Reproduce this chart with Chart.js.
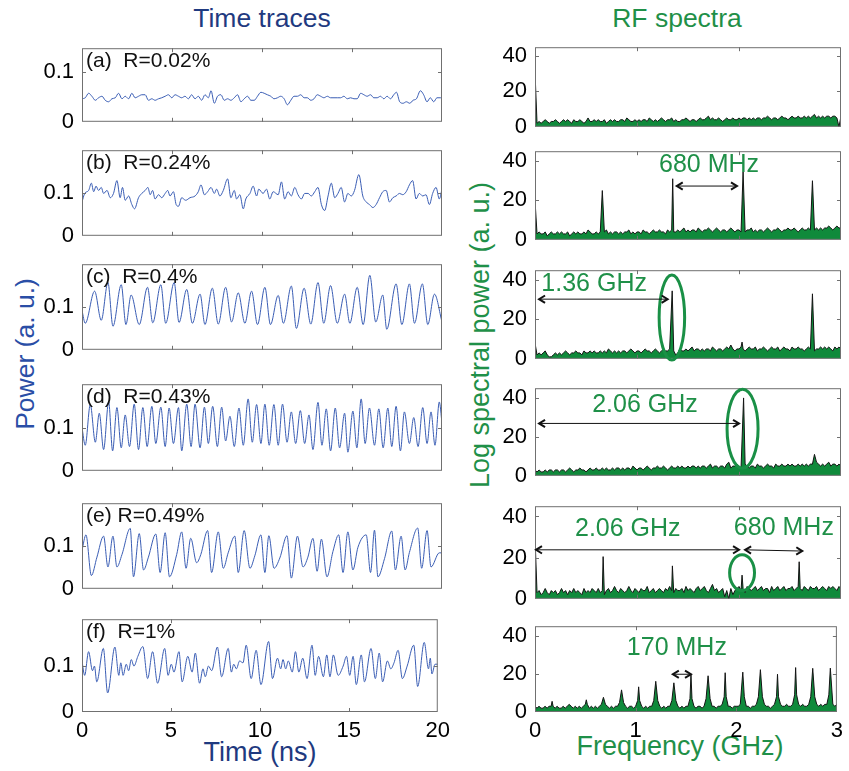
<!DOCTYPE html>
<html lang="en">
<head>
  <meta charset="UTF-8">
  <title>Time traces and RF spectra</title>
  <script src="https://cdn.jsdelivr.net/npm/chart.js"></script>
  <style>
    body { margin: 0; background: #fff; }
    #fig { position: relative; width: 849px; height: 771px; font-family: "Liberation Sans", Arial, sans-serif; overflow: hidden; }
    #fig canvas { position: absolute; }
    .lbl { position: absolute; white-space: nowrap; line-height: 1; }
    .rot { transform: translate(-50%, -50%) rotate(-90deg); }
  </style>
</head>
<body>
<div id="fig">
  <div class="lbl" style="left:262px; top:5px; transform:translateX(-50%); font-size:26.5px; color:#1f3a80">Time traces</div>
  <div class="lbl" style="left:677px; top:5px; transform:translateX(-50%); font-size:26.5px; color:#1f9048">RF spectra</div>
  <div class="lbl rot" style="left:25px; top:354px; font-size:26.5px; color:#2a4ea6">Power (a. u.)</div>
  <div class="lbl rot" style="left:480px; top:335px; font-size:27px; color:#1f9048">Log spectral power (a. u.)</div>
  <div class="lbl" style="left:260px; top:739px; transform:translateX(-50%); font-size:27px; color:#1f3a80">Time (ns)</div>
  <div class="lbl" style="left:680px; top:733px; transform:translateX(-50%); font-size:27px; color:#1f9048">Frequency (GHz)</div>
</div>

<script>
  // ---------- time traces (turning points) ----------
  const timeA = [0.00,0.18,0.37,0.55,0.74,0.92,1.11,1.29,1.48,1.66,
    1.85,2.03,2.22,2.40,2.59,2.77,2.95,3.14,3.32,3.51,
    3.69,3.88,4.06,4.25,4.43,4.62,4.80,4.99,5.17,5.36,
    5.54,5.72,5.91,6.09,6.28,6.46,6.65,6.83,7.02,7.17,
    7.35,7.53,7.72,7.90,8.09,8.27,8.46,8.64,8.83,9.01,
    9.20,9.38,9.57,9.75,9.94,10.12,10.30,10.49,10.67,10.86,
    11.04,11.23,11.41,11.60,11.78,11.97,12.15,12.34,12.52,12.71,
    12.89,13.07,13.26,13.44,13.63,13.81,14.00,14.18,14.37,14.55,
    14.74,14.92,15.11,15.29,15.48,15.66,15.84,16.03,16.21,16.40,
    16.58,16.77,16.95,17.14,17.32,17.47,17.65,17.84,18.02,18.21,
    18.39,18.58,18.80,18.98,19.17,19.35,19.54,19.72,19.91,20.00];
  const powerA = [.046,.048,.057,.051,.043,.048,.051,.043,.040,.046,
    .048,.057,.046,.051,.046,.057,.048,.051,.054,.054,
    .043,.046,.043,.046,.048,.051,.054,.048,.054,.051,
    .048,.051,.046,.054,.046,.051,.043,.054,.048,.062,
    .037,.051,.054,.043,.046,.043,.048,.054,.040,.046,
    .051,.043,.043,.051,.059,.057,.054,.051,.046,.048,
    .051,.046,.034,.043,.051,.051,.054,.048,.048,.043,
    .046,.054,.051,.048,.051,.048,.048,.048,.048,.051,
    .046,.048,.046,.046,.057,.054,.051,.054,.048,.048,
    .051,.046,.051,.046,.054,.059,.040,.037,.040,.037,
    .043,.046,.062,.054,.040,.048,.040,.048,.048,.048];

  const timeB = [0.00,0.15,0.37,0.52,0.65,0.78,0.92,1.07,1.20,1.39,
    1.57,1.75,1.94,2.12,2.25,2.40,2.59,2.77,2.92,3.14,
    3.32,3.51,3.66,3.79,3.92,4.06,4.25,4.43,4.62,4.76,
    4.89,5.08,5.23,5.36,5.54,5.76,6.00,6.28,6.46,6.61,
    6.80,6.98,7.17,7.35,7.48,7.66,7.85,8.09,8.27,8.46,
    8.59,8.77,8.96,9.10,9.33,9.51,9.70,9.82,10.06,10.25,
    10.43,10.62,10.90,11.08,11.26,11.45,11.63,11.82,12.00,12.19,
    12.37,12.56,12.74,12.93,13.11,13.30,13.48,13.67,13.85,14.04,
    14.22,14.40,14.59,14.77,14.96,15.14,15.38,15.60,15.79,15.97,
    16.16,16.34,16.53,16.71,16.90,17.08,17.27,17.45,17.64,17.82,
    18.01,18.19,18.37,18.56,18.74,18.93,19.11,19.30,19.48,19.67,
    19.85,20.00];
  const powerB = [.079,.099,.106,.123,.103,.116,.106,.113,.099,.106,
    .089,.099,.129,.089,.113,.083,.093,.073,.063,.089,
    .099,.106,.113,.096,.106,.086,.096,.089,.099,.106,
    .093,.103,.073,.069,.089,.083,.089,.093,.103,.119,
    .096,.103,.113,.099,.109,.093,.106,.133,.089,.106,
    .086,.096,.063,.086,.099,.116,.093,.109,.099,.109,
    .086,.103,.096,.126,.086,.103,.093,.113,.096,.086,
    .099,.099,.093,.103,.113,.073,.059,.093,.123,.089,
    .099,.113,.079,.099,.093,.106,.143,.093,.079,.073,
    .066,.073,.089,.103,.106,.079,.089,.093,.099,.096,
    .103,.119,.129,.086,.099,.093,.096,.073,.099,.113,
    .086,.109];

  const timeC = [0,0.18,0.70,1.07,1.44,1.72,2.18,2.44,2.73,3.18,
    3.64,3.93,4.38,4.65,5.12,5.39,5.82,6.13,6.56,6.83,
    7.24,7.57,7.98,8.31,8.68,9.05,9.42,9.75,10.16,10.47,
    10.90,11.19,11.63,11.91,12.34,12.71,13.11,13.43,13.81,14.18,
    14.59,14.88,15.29,15.62,15.99,16.32,16.71,16.93,17.45,17.77,
    18.19,18.47,18.91,19.21,19.58,20.00];
  const powerC = [.092,.062,.137,.069,.157,.055,.152,.059,.128,.059,
    .146,.063,.152,.062,.157,.064,.141,.062,.130,.059,
    .144,.060,.146,.065,.133,.062,.137,.059,.146,.059,
    .127,.062,.149,.050,.144,.060,.157,.062,.150,.062,
    .130,.062,.146,.059,.174,.065,.128,.048,.154,.059,
    .154,.062,.154,.059,.130,.065];

  const timeD = [0.00,0.18,0.46,0.74,0.96,1.20,1.48,1.70,1.94,2.18,
    2.40,2.64,2.90,3.14,3.38,3.62,3.88,4.10,4.38,4.62,
    4.84,5.08,5.36,5.54,5.82,6.06,6.28,6.56,6.80,7.02,
    7.26,7.52,7.76,7.98,8.22,8.46,8.72,8.96,9.23,9.46,
    9.70,9.94,10.16,10.40,10.66,10.90,11.14,11.39,11.63,11.87,
    12.13,12.37,12.61,12.83,13.11,13.33,13.57,13.81,14.07,14.31,
    14.59,14.77,15.05,15.27,15.51,15.73,15.97,16.25,16.49,16.73,
    16.99,17.21,17.45,17.69,17.91,18.19,18.43,18.67,18.93,19.17,
    19.39,19.61,19.85,20.00];
  const powerD = [.100,.059,.153,.066,.133,.049,.159,.046,.146,.053,
    .129,.056,.154,.049,.146,.056,.149,.063,.147,.056,
    .145,.063,.146,.046,.154,.056,.154,.053,.147,.063,
    .149,.056,.147,.069,.126,.056,.145,.059,.166,.066,
    .153,.063,.154,.059,.153,.059,.154,.066,.136,.063,
    .139,.063,.129,.049,.158,.059,.143,.046,.145,.053,
    .133,.043,.138,.053,.166,.063,.145,.059,.143,.053,
    .145,.056,.149,.046,.136,.063,.123,.056,.146,.063,
    .136,.059,.159,.110];

  const timeE = [0.00,0.22,0.52,0.83,1.20,1.44,1.72,1.94,2.22,2.68,
    2.86,3.18,3.42,3.69,4.10,4.34,4.62,4.86,5.26,5.54,
    5.78,6.04,6.37,6.60,6.98,7.20,7.57,7.85,8.12,8.49,
    8.68,9.01,9.33,9.60,9.94,10.16,10.38,10.67,10.99,11.39,
    11.63,11.97,12.28,12.55,12.83,13.06,13.30,13.61,13.94,14.26,
    14.50,14.77,15.05,15.33,15.79,16.03,16.25,16.44,16.81,17.21,
    17.41,17.73,17.95,18.19,18.65,18.87,19.17,19.39,19.85,20.00];
  const powerE = [.090,.126,.031,.074,.123,.051,.123,.051,.080,.141,
    .028,.129,.044,.074,.128,.038,.131,.028,.080,.133,
    .048,.118,.061,.080,.136,.038,.133,.048,.084,.123,
    .038,.136,.048,.077,.126,.038,.124,.048,.072,.124,
    .025,.123,.051,.074,.118,.041,.116,.028,.087,.126,
    .038,.133,.044,.097,.126,.038,.137,.028,.071,.135,
    .044,.123,.044,.085,.142,.048,.136,.051,.084,.084];

  const timeF = [0.00,0.15,0.37,0.59,0.70,0.83,1.20,1.44,1.85,2.07,
    2.18,2.31,2.49,2.62,2.77,2.92,3.14,3.42,3.69,3.97,
    4.25,4.65,4.84,5.02,5.17,5.45,5.63,5.95,6.19,6.37,
    6.61,6.80,6.93,7.11,7.29,7.61,7.85,8.22,8.40,8.53,
    8.68,8.86,9.05,9.23,9.51,9.79,10.06,10.49,10.71,10.99,
    11.17,11.30,11.45,11.60,11.82,12.00,12.19,12.41,12.65,12.93,
    13.11,13.30,13.57,13.76,13.94,14.13,14.40,14.68,14.87,15.05,
    15.24,15.42,15.70,15.88,16.25,16.49,16.71,16.90,17.17,17.36,
    17.54,17.77,18.01,18.28,18.65,18.87,19.24,19.48,19.58,19.67,
    19.85,20.00];
  const powerF = [.110,.079,.130,.089,.099,.065,.137,.041,.140,.079,
    .106,.079,.103,.089,.113,.099,.120,.141,.072,.130,
    .062,.137,.079,.103,.086,.130,.065,.120,.086,.127,
    .062,.093,.076,.099,.089,.140,.076,.137,.086,.103,
    .093,.110,.106,.144,.072,.133,.059,.152,.072,.116,
    .093,.113,.093,.110,.086,.130,.086,.116,.072,.144,
    .079,.120,.076,.123,.076,.123,.079,.099,.120,.079,
    .120,.059,.123,.065,.137,.072,.127,.065,.110,.093,
    .106,.133,.072,.099,.144,.055,.150,.093,.116,.082,
    .103,.103];

  // ---------- RF spectra: floor sampled every 20 MHz (0..3 GHz), plus the spectral lines ----------
  const fStep = 0.02;
  const specA = [31,
    2,3,2,3,4,3,2,3,3,4, 3,2,3,4,3,4,3,2,4,3, 3,4,3,2,3,5,3,3,4,3, 4,3,3,4,2,3,4,3,4,3,
    3,4,4,3,5,4,3,3,4,3, 4,3,4,4,3,5,4,3,4,3, 4,5,4,3,4,4,5,3,4,3, 3,4,4,5,4,3,4,4,3,4,
    5,4,4,5,6,4,5,4,4,5, 4,3,4,5,4,4,5,4,4,5, 4,5,5,4,5,4,5,4,5,5, 4,5,5,6,5,4,5,5,4,5,
    6,5,5,4,5,6,5,5,6,5, 5,6,5,6,5,6,7,5,6,5, 6,5,6,6,5,6,6,5,0,6];
  const specB = [20,
    3,4,3,3,4,2,3,4,3,3, 4,3,4,3,3,4,2,3,4,3, 4,3,3,4,3,5,4,3,3,4, 3,4,3,4,5,3,4,3,4,4,
    3,4,3,4,4,5,3,4,3,4, 4,3,5,4,4,3,4,5,4,4, 5,4,4,3,5,4,5,4,4,5, 4,5,6,4,5,4,5,5,4,6,
    5,4,5,5,6,5,4,5,6,5, 4,5,5,4,5,6,5,4,5,5, 4,5,4,5,5,6,4,5,4,5, 5,4,5,6,5,4,5,5,6,5,
    4,5,5,6,5,5,6,5,4,5, 6,5,5,6,5,6,5,6,5,6, 5,6,6,7,6,5,6,7,6,6];
  const specC = [8,
    2,3,2,3,4,2,1,1,2,3, 2,3,2,3,4,3,2,3,3,4, 3,3,2,4,3,3,4,3,4,3, 3,4,3,4,3,5,4,3,4,3,
    4,3,4,4,3,4,5,4,3,4, 4,3,4,5,4,4,3,4,5,4, 3,4,5,4,4,5,6,4,2,3, 5,4,4,5,4,5,6,4,5,5,
    4,5,4,5,5,4,6,5,4,5, 5,4,5,6,5,7,5,4,5,5, 6,5,4,5,6,5,5,6,4,5, 5,6,5,4,5,6,5,5,6,4,
    5,6,5,5,4,6,5,5,6,5, 5,4,5,6,5,6,4,5,5,6, 5,6,5,6,5,4,6,5,6,5];
  const specD = [3,
    2,3,2,2,3,2,3,3,2,3, 3,2,3,3,2,3,4,3,2,3, 3,4,3,3,2,3,4,3,3,4, 3,3,4,3,4,3,3,4,3,4,
    4,3,4,3,4,4,3,5,4,3, 4,4,3,4,5,4,3,4,4,5, 4,4,5,4,3,4,5,4,4,5, 4,5,4,4,5,4,5,5,4,5,
    4,5,5,4,5,6,4,5,5,4, 5,5,4,6,5,4,5,5,6,5, 4,5,6,5,4,5,5,4,6,5, 5,4,5,6,5,5,4,6,5,5,
    6,5,5,6,5,6,5,5,6,5, 6,5,6,5,6,6,5,7,6,5, 6,5,6,7,5,6,6,5,6,5];
  const specE = [30,
    3,4,2,3,5,3,2,4,3,4, 2,3,5,3,4,2,4,3,5,3, 4,3,2,5,3,4,3,5,4,3, 5,3,4,2,4,5,3,4,6,4,
    3,5,4,3,4,6,4,3,5,4, 3,5,4,4,6,3,4,5,3,4, 5,4,3,5,4,6,4,3,5,4, 4,5,3,6,4,5,4,3,5,6,
    4,5,6,4,3,5,7,4,5,3, 4,5,1,4,0,5,2,4,5,6, 4,5,3,6,5,4,5,6,4,5, 6,4,5,5,3,6,4,5,6,4,
    5,6,4,5,5,6,4,5,6,5, 4,6,5,4,6,5,5,6,4,5, 6,5,4,6,5,6,5,4,6,5];
  const specF = [3,
    2,3,2,2,3,2,3,3,3,2, 3,2,2,3,2,3,3,3,2,3, 2,3,2,3,4,4,2,3,2,3, 2,3,4,4,4,3,2,3,2,3,
    3,5,5,5,3,2,3,3,2,3, 6,6,3,2,3,2,3,3,6,7, 6,3,2,3,2,3,3,6,7,6, 3,2,3,2,3,3,7,7,3,2,
    3,3,2,3,7,8,7,3,3,2, 3,3,4,8,8,3,3,2,3,3, 3,4,8,8,3,3,2,3,3,4, 8,9,8,4,3,3,2,3,4,8,
    8,4,3,3,4,3,3,4,9,9, 4,3,4,3,3,4,8,9,8,4, 3,4,3,4,4,9,9,4,3,4];

  const peakFreqA = [], peakAmpA = [];
  const peakFreqB = [0.66, 1.35, 2.04, 2.72], peakAmpB = [25, 31, 34.5, 30];
  const peakFreqC = [1.345, 2.03, 2.72], peakAmpC = [34.5, 8.5, 33];
  const peakFreqD = [1.9, 2.045, 2.74], peakAmpD = [7, 40, 11];
  const peakFreqE = [0.668, 1.347, 2.03, 2.59], peakAmpE = [20.5, 16, 11.5, 18];
  const peakFreqF = [0.17, 0.34, 0.51, 0.68, 0.86, 1.03, 1.20, 1.38, 1.55, 1.72, 1.89, 2.065, 2.24, 2.41, 2.59, 2.76, 2.935];
  const peakAmpF = [5.6, 4, 6.4, 7.7, 11.6, 13.2, 16.1, 15.3, 19.7, 19, 20.6, 20.9, 22.2, 19.8, 23.3, 22.9, 23];

  const panelLabels = ['(a)  R=0.02%', '(b)  R=0.24%', '(c)  R=0.4%', '(d)  R=0.43%', '(e) R=0.49%', '(f)  R=1%'];
  const timeTicks = [0, 5, 10, 15, 20];
  const freqTicks = [0, 1, 2, 3];

  // ---------- helpers ----------
  const FONT = '"Liberation Sans", Arial, sans-serif';
  const GREEN_TXT = '#1f9048';
  const fig = document.getElementById('fig');

  function trace(t, p) {
    return t.map((x, i) => ({ x: x, y: p[i] }));
  }

  function spectrum(vals, pf, pa) {
    const pts = [];
    vals.forEach((v, i) => {
      const f = i * fStep;
      if (!pf.some(q => Math.abs(q - f) < 0.005)) pts.push({ x: f, y: v });
    });
    pf.forEach((f, k) => pts.push({ x: f, y: pa[k] }));
    return pts.sort((a, b) => a.x - b.x);
  }

  function head(ctx, tx, ty, fx, fy) {
    const a = Math.atan2(ty - fy, tx - fx), L = 7, s = 0.55;
    ctx.beginPath();
    ctx.moveTo(tx - L * Math.cos(a - s), ty - L * Math.sin(a - s));
    ctx.lineTo(tx, ty);
    ctx.lineTo(tx - L * Math.cos(a + s), ty - L * Math.sin(a + s));
    ctx.stroke();
  }

  function framePlugin(o) {
    return {
      id: 'frame',
      afterDraw(chart) {
        const { ctx, chartArea: a, scales: { x, y } } = chart;
        ctx.save();
        ctx.strokeStyle = '#707070';
        ctx.lineWidth = 1;
        ctx.strokeRect(a.left + 0.5, a.top + 0.5, a.width - 1, a.height - 1);
        ctx.beginPath();
        o.xInner.forEach(v => {
          const px = Math.round(x.getPixelForValue(v)) + 0.5;
          ctx.moveTo(px, a.bottom); ctx.lineTo(px, a.bottom - 4);
          ctx.moveTo(px, a.top); ctx.lineTo(px, a.top + 4);
        });
        o.yInner.forEach(v => {
          const py = Math.round(y.getPixelForValue(v)) + 0.5;
          ctx.moveTo(a.left, py); ctx.lineTo(a.left + 4, py);
          ctx.moveTo(a.right, py); ctx.lineTo(a.right - 4, py);
        });
        ctx.stroke();

        if (o.label) {
          ctx.fillStyle = '#111';
          ctx.font = '21px ' + FONT;
          ctx.textAlign = 'left';
          ctx.textBaseline = 'alphabetic';
          ctx.fillText(o.label, a.left + 4, a.top + 19);
        }

        (o.ellipses || []).forEach(e => {
          const cx = x.getPixelForValue(e.f), cy = y.getPixelForValue(e.v);
          const rx = Math.abs(x.getPixelForValue(e.f + e.rf) - cx);
          const ry = Math.abs(y.getPixelForValue(e.v + e.rv) - cy);
          ctx.strokeStyle = '#1a9046';
          ctx.lineWidth = 3;
          ctx.beginPath();
          ctx.ellipse(cx, cy, rx, ry, 0, 0, Math.PI * 2);
          ctx.stroke();
        });

        (o.arrows || []).forEach(r => {
          const x1 = x.getPixelForValue(r.f1), y1 = y.getPixelForValue(r.v1);
          const x2 = x.getPixelForValue(r.f2), y2 = y.getPixelForValue(r.v2);
          ctx.strokeStyle = '#111';
          ctx.lineWidth = 1;
          ctx.beginPath(); ctx.moveTo(x1, y1); ctx.lineTo(x2, y2); ctx.stroke();
          ctx.lineWidth = 2;
          head(ctx, x1, y1, x2, y2);
          head(ctx, x2, y2, x1, y1);
        });

        (o.texts || []).forEach(tx => {
          ctx.fillStyle = GREEN_TXT;
          ctx.font = '25px ' + FONT;
          ctx.textAlign = 'center';
          ctx.textBaseline = 'alphabetic';
          ctx.fillText(tx.s, x.getPixelForValue(tx.f), y.getPixelForValue(tx.v));
        });
        ctx.restore();
      }
    };
  }

  function makePanel(o) {
    const padT = 14, padB = 14, axH = 32;
    const plotW = o.right - o.left, plotH = o.y1 - o.y0;
    const w = o.axisW + plotW + o.padR;
    const h = padT + plotH + (o.bottom ? axH : padB);
    const cv = document.createElement('canvas');
    cv.width = w; cv.height = h;
    cv.style.left = (o.left - o.axisW) + 'px';
    cv.style.top = (o.y0 - padT) + 'px';
    cv.style.width = w + 'px';
    cv.style.height = h + 'px';
    fig.appendChild(cv);
    const tickFont = { family: FONT, size: 22 };
    new Chart(cv, {
      type: 'line',
      data: { datasets: [o.dataset] },
      options: {
        responsive: false,
        animation: false,
        devicePixelRatio: 1,
        layout: { padding: { top: padT, right: o.padR, bottom: o.bottom ? 0 : padB, left: 0 } },
        plugins: { legend: { display: false }, tooltip: { enabled: false } },
        elements: { point: { radius: 0 } },
        scales: {
          x: {
            type: 'linear', min: 0, max: o.xMax,
            display: o.bottom,
            grid: { display: false, drawTicks: false },
            border: { display: false },
            ticks: { padding: 6, color: '#000', font: tickFont, maxRotation: 0, autoSkip: false },
            afterBuildTicks: s => { s.ticks = o.xTicks.map(v => ({ value: v })); },
            afterFit: s => { if (o.bottom) s.height = axH; }
          },
          y: {
            min: 0, max: o.yMax,
            grid: { display: false, drawTicks: false },
            border: { display: false },
            ticks: { padding: 8, color: '#000', font: tickFont, callback: v => String(v) },
            afterBuildTicks: s => { s.ticks = o.yTicks.map(v => ({ value: v })); },
            afterFit: s => { s.width = o.axisW; }
          }
        }
      },
      plugins: [framePlugin(o)]
    });
  }

  // ---------- layout of the two columns ----------
  const leftRows = [[41, 129], [143, 243], [257, 357], [377, 478], [496, 596], [612, 712]];
  const rightRows = [[40, 134], [144, 247], [263, 366], [381, 483], [499, 606], [619, 712]];
  const traces = [[timeA, powerA], [timeB, powerB], [timeC, powerC], [timeD, powerD], [timeE, powerE], [timeF, powerF]];
  const spectra = [[specA, peakFreqA, peakAmpA], [specB, peakFreqB, peakAmpB], [specC, peakFreqC, peakAmpC],
                   [specD, peakFreqD, peakAmpD], [specE, peakFreqE, peakAmpE], [specF, peakFreqF, peakAmpF]];

  const notes = [
    {},
    { texts: [{ f: 1.706, v: 34.5, s: '680 MHz' }],
      arrows: [{ f1: 1.39, v1: 27.3, f2: 1.98, v2: 27.3 }] },
    { texts: [{ f: 0.58, v: 34.5, s: '1.36 GHz' }],
      arrows: [{ f1: 0.04, v1: 30.3, f2: 1.30, v2: 30.3 }],
      ellipses: [{ f: 1.342, v: 21, rf: 0.125, rv: 21.6 }] },
    { texts: [{ f: 1.078, v: 32.6, s: '2.06 GHz' }],
      arrows: [{ f1: 0.04, v1: 26.9, f2: 2.0, v2: 26.9 }],
      ellipses: [{ f: 2.035, v: 24.2, rf: 0.152, rv: 20.3 }] },
    { texts: [{ f: 0.91, v: 30.7, s: '2.06 GHz' }, { f: 2.44, v: 31, s: '680 MHz' }],
      arrows: [{ f1: 0.01, v1: 23.8, f2: 2.0, v2: 23.8 }, { f1: 2.06, v1: 23.8, f2: 2.62, v2: 23.2 }],
      ellipses: [{ f: 2.03, v: 12.7, rf: 0.122, rv: 8.7 }] },
    { texts: [{ f: 1.41, v: 30, s: '170 MHz' }],
      arrows: [{ f1: 1.37, v1: 19.8, f2: 1.55, v2: 19.8 }] }
  ];

  leftRows.forEach((r, i) => {
    makePanel({
      left: 82, right: 442, y0: r[0], y1: r[1], axisW: 82, padR: 14,
      bottom: i === 5, xMax: 20, yMax: i === 0 ? 0.147 : 0.2,
      xTicks: timeTicks, yTicks: [0, 0.1], xInner: [5, 10, 15], yInner: [0.1],
      label: panelLabels[i],
      dataset: {
        data: trace(traces[i][0], traces[i][1]),
        borderColor: '#3a5db4', borderWidth: 1, fill: false,
        cubicInterpolationMode: 'monotone'
      }
    });
  });

  rightRows.forEach((r, i) => {
    makePanel(Object.assign({
      left: 535, right: 841, y0: r[0], y1: r[1], axisW: 60, padR: 8,
      bottom: i === 5, xMax: 3, yMax: 45,
      xTicks: freqTicks, yTicks: [0, 20, 40], xInner: [1, 2], yInner: [20, 40],
      dataset: {
        data: spectrum(spectra[i][0], spectra[i][1], spectra[i][2]),
        borderColor: '#151515', borderWidth: 1, backgroundColor: '#0f8a3b',
        fill: 'origin', tension: 0
      }
    }, notes[i]));
  });
</script>
</body>
</html>
